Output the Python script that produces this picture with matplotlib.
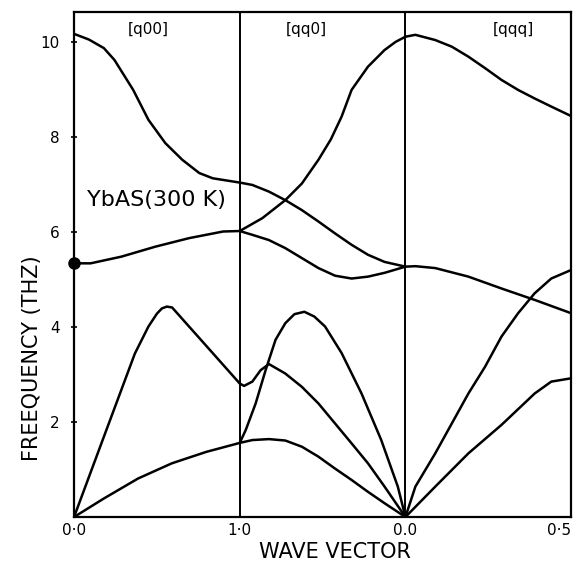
import matplotlib
matplotlib.use("Agg")
import matplotlib.pyplot as plt

# phonon branches, x in units of the three panels
# [q00]
s1_top_x = [0, 0.09, 0.18, 0.244, 0.357, 0.449, 0.551, 0.653, 0.756, 0.837, 1.0]
s1_top_y = [10.17, 10.05, 9.87, 9.62, 8.99, 8.36, 7.87, 7.52, 7.24, 7.13, 7.04]
s1_opt_x = [0, 0.1, 0.285, 0.49, 0.694, 0.9, 1.0]
s1_opt_y = [5.34, 5.34, 5.48, 5.69, 5.87, 6.01, 6.02]
s1_la_x = [0, 0.18, 0.367, 0.449, 0.5, 0.53, 0.56, 0.592, 0.694, 0.837, 1.0]
s1_la_y = [0, 1.69, 3.44, 4.01, 4.28, 4.39, 4.43, 4.41, 4.01, 3.45, 2.81]
s1_ta_x = [0, 0.18, 0.386, 0.59, 0.797, 1.0]
s1_ta_y = [0, 0.39, 0.81, 1.13, 1.37, 1.56]

# [qq0]
s2_a_x = [1.0, 1.136, 1.275, 1.375, 1.475, 1.55, 1.615, 1.675, 1.774, 1.874, 1.94, 2.0]
s2_a_y = [6.02, 6.29, 6.67, 7.02, 7.52, 7.95, 8.43, 8.99, 9.48, 9.83, 10.0, 10.11]
s2_grid_x = [1.0, 1.076, 1.176, 1.275, 1.375, 1.475, 1.575, 1.675, 1.774, 1.874, 2.0]
s2_b_y = [7.04, 6.99, 6.85, 6.67, 6.46, 6.22, 5.97, 5.73, 5.52, 5.37, 5.27]
s2_c_y = [6.02, 5.94, 5.83, 5.66, 5.45, 5.24, 5.08, 5.02, 5.06, 5.14, 5.27]
s2_f_y = [1.56, 1.62, 1.64, 1.61, 1.48, 1.27, 1.02, 0.78, 0.53, 0.29, 0]
s2_d_x = [1.0, 1.026, 1.076, 1.126, 1.176, 1.275, 1.375, 1.475, 1.575, 1.675, 1.774, 1.874, 2.0]
s2_d_y = [2.81, 2.76, 2.85, 3.09, 3.22, 3.02, 2.74, 2.39, 1.97, 1.55, 1.13, 0.64, 0]
s2_e_x = [1.0, 1.036, 1.096, 1.156, 1.216, 1.275, 1.33, 1.39, 1.45, 1.515, 1.615, 1.735, 1.854, 1.954, 2.0]
s2_e_y = [1.56, 1.83, 2.39, 3.09, 3.73, 4.08, 4.27, 4.32, 4.22, 4.01, 3.45, 2.6, 1.62, 0.64, 0]

# [qqq]
s3_grid_x = [2.0, 2.06, 2.18, 2.28, 2.38, 2.48, 2.58, 2.68, 2.78, 2.88, 3.0]
s3_g_y = [10.11, 10.15, 10.04, 9.9, 9.69, 9.45, 9.2, 8.99, 8.81, 8.64, 8.44]
s3_i_y = [0, 0.64, 1.34, 1.97, 2.6, 3.16, 3.8, 4.29, 4.71, 5.02, 5.2]
s3_h_x = [2.0, 2.06, 2.18, 2.38, 2.58, 2.78, 3.0]
s3_h_y = [5.27, 5.28, 5.24, 5.06, 4.81, 4.57, 4.29]
s3_j_x = [2.0, 2.18, 2.38, 2.58, 2.78, 2.88, 3.0]
s3_j_y = [0, 0.64, 1.34, 1.94, 2.6, 2.85, 2.92]

branches = [
    (s1_top_x, s1_top_y), (s1_opt_x, s1_opt_y), (s1_la_x, s1_la_y), (s1_ta_x, s1_ta_y),
    (s2_a_x, s2_a_y), (s2_grid_x, s2_b_y), (s2_grid_x, s2_c_y), (s2_grid_x, s2_f_y),
    (s2_d_x, s2_d_y), (s2_e_x, s2_e_y),
    (s3_grid_x, s3_g_y), (s3_grid_x, s3_i_y), (s3_h_x, s3_h_y), (s3_j_x, s3_j_y),
]

x_ticks = [0, 1, 2, 3]
x_tick_labels = ["0\u00b70", "1\u00b70", "0.0", "0\u00b75"]
y_ticks = [2, 4, 6, 8, 10]
directions = ["[q00]", "[qq0]", "[qqq]"]
direction_x = [0.45, 1.4, 2.65]

fig = plt.figure(figsize=(5.74, 5.64), dpi=100)
ax = fig.add_axes([0.129, 0.0833, 0.866, 0.8954])

for bx, by in branches:
    ax.plot(bx, by, color="black", lw=1.8, solid_capstyle="round", solid_joinstyle="round")

ax.plot([0], [5.34], "o", color="black", ms=8, clip_on=False, zorder=5)

for xv in [1, 2]:
    ax.axvline(xv, color="black", lw=1.4)

ax.set_xlim(0, 3)
ax.set_ylim(0, 10.63)

ax.set_xticks(x_ticks)
ax.set_xticklabels(x_tick_labels, fontsize=11)
ax.tick_params(axis="x", length=0, pad=4)
ax.get_xticklabels()[-1].set_horizontalalignment("right")
ax.set_yticks(y_ticks)
ax.set_yticklabels([str(v) for v in y_ticks], fontsize=11)
ax.tick_params(axis="y", direction="inout", length=5, width=1.2, pad=8)

for sp in ax.spines.values():
    sp.set_linewidth(1.6)

for lab, xv in zip(directions, direction_x):
    ax.text(xv, 10.27, lab, ha="center", va="center", fontsize=11)

ax.text(0.5, 6.67, "YbAS(300 K)", ha="center", va="center", fontsize=16)

fig.text(0.055, 1 - 358 / 564, "FREEQUENCY (THZ)", rotation=90,
         ha="center", va="center", fontsize=15)
fig.text(335 / 574, 1 - 552 / 564, "WAVE VECTOR", ha="center", va="center", fontsize=15)

fig.savefig("out.png", dpi=100)
